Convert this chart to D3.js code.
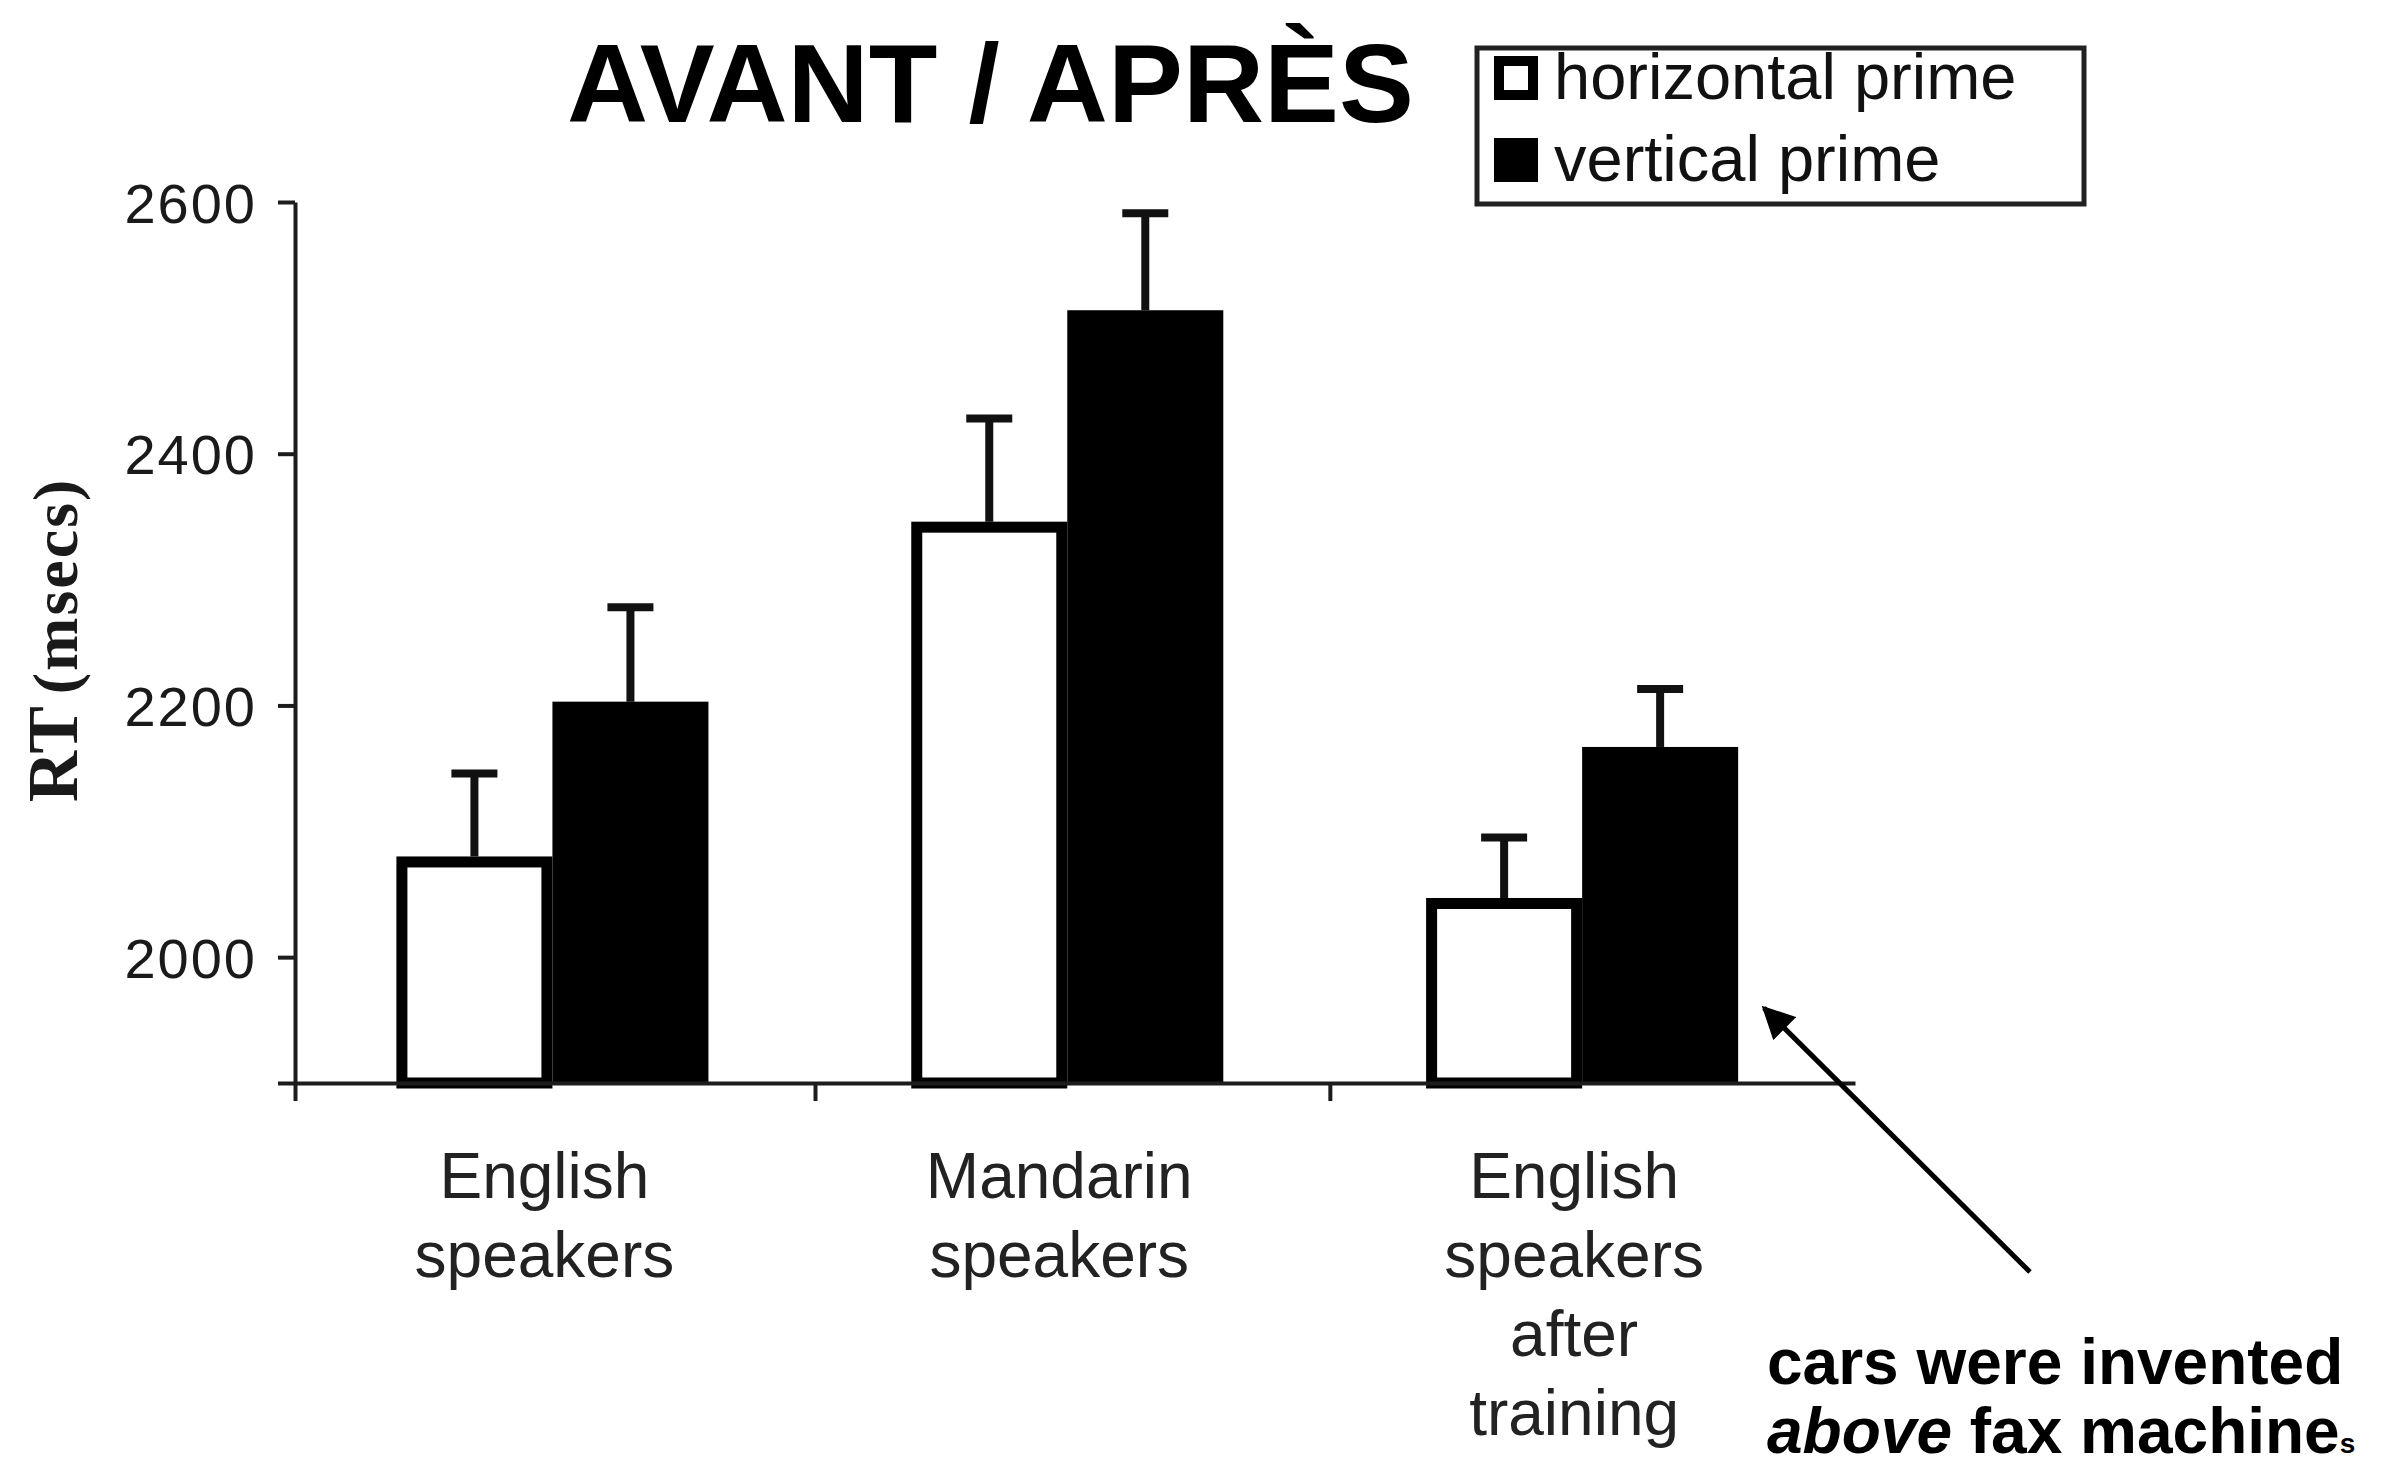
<!DOCTYPE html>
<html>
<head>
<meta charset="utf-8">
<script src="https://cdn.jsdelivr.net/npm/d3@7"></script>
<style>
  body { margin: 0; background: #fff; }
  svg { display: block; }
</style>
</head>
<body>
<div id="chart"></div>
<script>
// data
var groups = ["English speakers", "Mandarin speakers", "English speakers after training"];
var groupLines = [["English", "speakers"], ["Mandarin", "speakers"], ["English", "speakers", "after", "training"]];
var series = ["horizontal prime", "vertical prime"];
var horizontalRT = [2080, 2346, 2047];
var verticalRT = [2203, 2514, 2167];
var horizontalErr = [66, 82, 48];
var verticalErr = [75, 77, 46];
var yTicks = [1900, 2000, 2200, 2400, 2600];

var svgWidth = 2384;
var svgHeight = 1468;

var svg = d3.select("#chart")
  .append("svg")
  .attr("width", svgWidth)
  .attr("height", svgHeight);

// scales
var xEdge = d3.scaleLinear().domain([0, 3.03]).range([295, 1855]);
var x0 = d3.scaleBand().domain(groups).range([xEdge(0), xEdge(3)]).padding(0);
var x1 = d3.scaleBand().domain(series).range([0, x0.bandwidth()]).paddingInner(0).paddingOuter(0.65);
var y = d3.scaleLinear().domain([1900, 2600]).range([1083, 202]);

var rows = groups.map(function(g, i) {
  return [
    { group: g, key: series[0], value: horizontalRT[i], err: horizontalErr[i] },
    { group: g, key: series[1], value: verticalRT[i], err: verticalErr[i] }
  ];
});
var flat = [].concat.apply([], rows);

var axisColor = "#1c1c1c";

// bars
var sw = 11;
svg.append("g").selectAll("rect")
  .data(flat)
  .enter().append("rect")
  .attr("x", d => x0(d.group) + x1(d.key) + (d.key === series[0] ? sw / 2 : 0))
  .attr("width", d => x1.bandwidth() - (d.key === series[0] ? sw : 0))
  .attr("y", d => y(d.value) + (d.key === series[0] ? sw / 2 : 0))
  .attr("height", d => y(1900) - y(d.value) - (d.key === series[0] ? sw / 2 : 0))
  .attr("fill", d => d.key === series[0] ? "#fff" : "#000")
  .attr("stroke", d => d.key === series[0] ? "#000" : "none")
  .attr("stroke-width", sw);

// error bars
var errG = svg.append("g").attr("stroke", "#111").attr("stroke-width", 8);
errG.selectAll("line.stem")
  .data(flat)
  .enter().append("line")
  .attr("class", "stem")
  .attr("x1", d => x0(d.group) + x1(d.key) + x1.bandwidth() / 2)
  .attr("x2", d => x0(d.group) + x1(d.key) + x1.bandwidth() / 2)
  .attr("y1", d => y(d.value))
  .attr("y2", d => y(d.value + d.err));
errG.selectAll("line.cap")
  .data(flat)
  .enter().append("line")
  .attr("class", "cap")
  .attr("x1", d => x0(d.group) + x1(d.key) + x1.bandwidth() / 2 - 23)
  .attr("x2", d => x0(d.group) + x1(d.key) + x1.bandwidth() / 2 + 23)
  .attr("y1", d => y(d.value + d.err))
  .attr("y2", d => y(d.value + d.err));

// x axis (ticks on category boundaries)
var xAxisG = svg.append("g")
  .attr("transform", `translate(0, ${y(1900)})`)
  .call(d3.axisBottom(xEdge).tickValues([0, 1.01, 2.01]).tickFormat("").tickSize(18).tickSizeOuter(0));
xAxisG.selectAll("path, line").attr("stroke", axisColor).attr("stroke-width", 4);

// y axis
var yAxisG = svg.append("g")
  .attr("transform", `translate(${xEdge(0)}, 0)`)
  .call(d3.axisLeft(y).tickValues(yTicks).tickSize(17).tickSizeOuter(0)
    .tickFormat(d => d === 1900 ? "" : d));
yAxisG.selectAll("path, line").attr("stroke", axisColor).attr("stroke-width", 4);
yAxisG.selectAll("text")
  .attr("x", -38)
  .attr("dy", "0.36em")
  .attr("fill", "#1a1a1a")
  .style("font-family", "'Liberation Sans', Arial, sans-serif")
  .style("font-size", "56px")
  .style("letter-spacing", "2px");

// category labels
var labelG = svg.append("g")
  .style("font-family", "'Liberation Sans', Arial, sans-serif")
  .style("font-size", "64px")
  .attr("fill", "#222")
  .attr("text-anchor", "middle");
groups.forEach(function(g, i) {
  var t = labelG.append("text");
  groupLines[i].forEach(function(line, j) {
    t.append("tspan")
      .attr("x", x0(g) + x0.bandwidth() / 2 - 8)
      .attr("y", 1198 + j * 79)
      .text(line);
  });
});

// y axis title
var yTitle = svg.append("text")
  .attr("transform", "translate(77, 640) rotate(-90)")
  .attr("text-anchor", "middle")
  .attr("fill", "#1a1a1a")
  .style("font-family", "'Liberation Serif', 'Times New Roman', serif")
  .style("font-weight", "bold");
yTitle.append("tspan").style("font-size", "71px").text("RT");
yTitle.append("tspan").attr("dx", 12).style("font-size", "64px").style("letter-spacing", "2px").text("(msecs)");

// chart title
svg.append("text")
  .attr("x", 567)
  .attr("y", 122)
  .attr("textLength", 847)
  .attr("lengthAdjust", "spacingAndGlyphs")
  .style("font-family", "'Liberation Sans', Arial, sans-serif")
  .style("font-weight", "bold")
  .style("font-size", "112px")
  .attr("fill", "#000")
  .text("AVANT / APRÈS");

// legend
var legend = svg.append("g");
legend.append("rect")
  .attr("x", 1477).attr("y", 48)
  .attr("width", 607).attr("height", 156)
  .attr("fill", "#fff")
  .attr("stroke", "#222")
  .attr("stroke-width", 5);
var legendRows = legend.selectAll("g.item")
  .data(series)
  .enter().append("g")
  .attr("class", "item")
  .attr("transform", (d, i) => `translate(1494, ${56 + i * 82})`);
legendRows.append("rect")
  .attr("x", d => d === series[0] ? 5 : 0)
  .attr("y", d => d === series[0] ? 5 : 0)
  .attr("width", d => d === series[0] ? 34 : 44)
  .attr("height", d => d === series[0] ? 34 : 44)
  .attr("fill", d => d === series[0] ? "#fff" : "#000")
  .attr("stroke", d => d === series[0] ? "#000" : "none")
  .attr("stroke-width", 10);
legendRows.append("text")
  .attr("x", 60)
  .attr("y", 43)
  .attr("fill", "#111")
  .style("font-family", "'Liberation Sans', Arial, sans-serif")
  .style("font-size", "65px")
  .text(d => d);

// annotation
svg.append("defs").append("marker")
  .attr("id", "arrowHead")
  .attr("viewBox", "0 0 10 10")
  .attr("refX", 9).attr("refY", 5)
  .attr("markerWidth", 6.5).attr("markerHeight", 6.5)
  .attr("markerUnits", "strokeWidth")
  .attr("orient", "auto")
  .append("path")
  .attr("d", "M0,0 L10,5 L0,10 Z")
  .attr("fill", "#000");

svg.append("line")
  .attr("x1", 2030).attr("y1", 1272)
  .attr("x2", 1764).attr("y2", 1008)
  .attr("stroke", "#000")
  .attr("stroke-width", 5)
  .attr("marker-end", "url(#arrowHead)");

var note = svg.append("g")
  .style("font-family", "'Liberation Sans', Arial, sans-serif")
  .style("font-weight", "bold")
  .attr("fill", "#000");
note.append("text")
  .attr("x", 1767).attr("y", 1384)
  .style("font-size", "64px")
  .text("cars were invented");
var note2 = note.append("text")
  .attr("x", 1767).attr("y", 1453)
  .style("font-size", "64px");
note2.append("tspan").style("font-style", "italic").text("above");
note2.append("tspan").text(" fax machine");
note2.append("tspan").style("font-size", "28px").text("s");
</script>
</body>
</html>
